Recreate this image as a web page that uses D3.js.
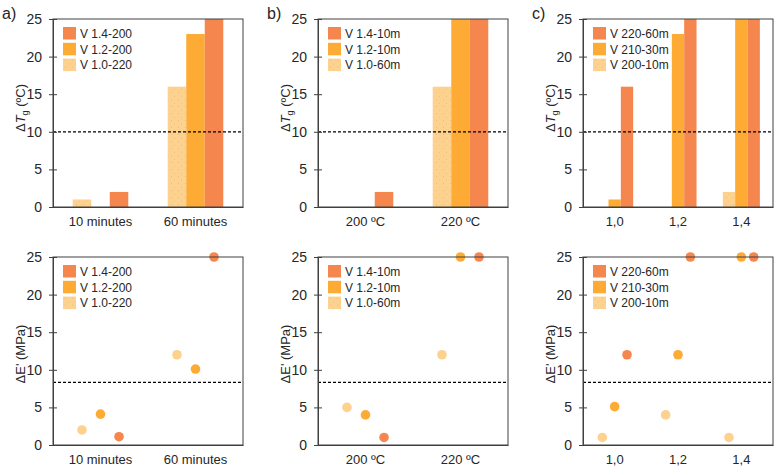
<!DOCTYPE html>
<html>
<head>
<meta charset="utf-8">
<script src="https://cdn.jsdelivr.net/npm/d3@7"></script>
<style>
  body { margin: 0; background: #fff; }
  text { font-family: "Liberation Sans", Arial, sans-serif; }
</style>
</head>
<body>
<svg id="fig" width="777" height="470"></svg>
<script>
// categories
var catsA = ["10 minutes", "60 minutes"];
var catsB = ["200 ºC", "220 ºC"];
var catsC = ["1,0", "1,2", "1,4"];

// series (light, mid, dark)
var seriesA = ["V 1.0-220", "V 1.2-200", "V 1.4-200"];
var seriesB = ["V 1.0-60m", "V 1.2-10m", "V 1.4-10m"];
var seriesC = ["V 200-10m", "V 210-30m", "V 220-60m"];

// delta Tg (ºC), one row per category
var tgA = [[1, 0, 2], [16, 23, 25]];
var tgB = [[0, 0, 2], [16, 25, 25]];
var tgC = [[0, 1, 16], [0, 23, 25], [2, 25, 25]];

// delta E' (MPa), one row per category
var eA = [[2, 4.1, 1.1], [12, 10.1, 25]];
var eB = [[5, 4, 1], [12, 25, 25]];
var eC = [[1, 5.1, 12], [4, 12, 25], [1, 25, 25]];

var yTicks = [0, 5, 10, 15, 20, 25];
var tgLimit = 10, eLimit = 8.33;
var letters = ["a)", "b)", "c)"];

var svg = d3.select("#fig");
var plotW = 190, groupFrac = 0.585;
var axisColor = "#404040", textColor = "#262626";
var barFills = ["url(#speckle)", "#FDAB35", "#F5864E"];
var dotFills = ["#FDD28E", "#FDAB35", "#F5864E"];

// light bars have a speckled texture
var pat = svg.append("defs").append("pattern")
  .attr("id", "speckle").attr("width", 7).attr("height", 7)
  .attr("patternUnits", "userSpaceOnUse");
pat.append("rect").attr("width", 7).attr("height", 7).attr("fill", "#FDD28E");
pat.append("rect").attr("x", 2).attr("y", 1).attr("width", 1).attr("height", 1).attr("fill", "#E9BC80");
pat.append("rect").attr("x", 5).attr("y", 5).attr("width", 1).attr("height", 1).attr("fill", "#EFC286");

function drawPanel(p) {
  var g = svg.append("g");
  var x0 = d3.scaleBand().domain(p.cats).range([p.left, p.left + plotW]);
  var bw = x0.bandwidth();
  var x1 = d3.scaleBand().domain(d3.range(p.series.length))
    .range([bw * (1 - groupFrac) / 2, bw * (1 + groupFrac) / 2]);
  var y = d3.scaleLinear().domain([0, 25]).range([p.bottom, p.top]);

  var grp = g.selectAll(".grp").data(p.values).enter().append("g")
    .attr("transform", function(d, i) { return "translate(" + x0(p.cats[i]) + ",0)"; });

  function items(row) {
    return row.map(function(v, k) { return { v: v, k: k }; });
  }

  if (p.kind == "bar") {
    grp.selectAll("rect")
      .data(function(d) { return items(d).filter(function(o) { return o.v > 0; }); })
      .enter().append("rect")
      .attr("x", function(o) { return x1(o.k); })
      .attr("y", function(o) { return y(o.v); })
      .attr("width", x1.bandwidth())
      .attr("height", function(o) { return y(0) - y(o.v); })
      .attr("fill", function(o) { return barFills[o.k]; });
  }

  // frame
  g.append("rect")
    .attr("x", p.left).attr("y", p.top)
    .attr("width", plotW).attr("height", p.bottom - p.top)
    .attr("fill", "none").attr("stroke", axisColor);

  // threshold
  g.append("line")
    .attr("x1", p.left).attr("x2", p.left + plotW)
    .attr("y1", y(p.limit)).attr("y2", y(p.limit))
    .attr("stroke", "#000").attr("stroke-width", 1.2)
    .attr("stroke-dasharray", "3,2");

  if (p.kind == "dot") {
    grp.selectAll("circle")
      .data(items)
      .enter().append("circle")
      .attr("cx", function(o) { return x1(o.k) + x1.bandwidth() / 2; })
      .attr("cy", function(o) { return y(o.v); })
      .attr("r", 4.8)
      .attr("fill", function(o) { return dotFills[o.k]; });
  }

  var ya = g.append("g")
    .attr("transform", "translate(" + p.left + ",0)")
    .call(d3.axisLeft(y).tickValues(yTicks).tickSize(4).tickSizeOuter(0).tickPadding(7));
  ya.selectAll(".tick line").attr("x1", 4).attr("stroke", axisColor);
  ya.select(".domain").attr("stroke", axisColor);
  ya.selectAll("text").attr("font-size", 14).attr("fill", textColor)
    .style("font-family", "'Liberation Sans', Arial, sans-serif");

  var xa = g.append("g")
    .attr("transform", "translate(0," + p.bottom + ")")
    .call(d3.axisBottom(x0).tickSize(0).tickSizeOuter(0).tickPadding(10));
  xa.select(".domain").attr("stroke", axisColor);
  xa.selectAll("text").attr("font-size", 13).attr("fill", textColor)
    .style("font-family", "'Liberation Sans', Arial, sans-serif");

  // legend
  var leg = g.append("g")
    .attr("transform", "translate(" + (p.left + 10) + "," + (p.top + 8) + ")")
    .selectAll("g")
    .data(d3.range(p.series.length).reverse())
    .enter().append("g")
    .attr("transform", function(d, i) { return "translate(0," + i * 15.8 + ")"; });
  leg.append("rect")
    .attr("width", 13).attr("height", 12.5)
    .attr("fill", function(d) { return barFills[d]; });
  leg.append("text")
    .attr("x", 17).attr("y", 6.5).attr("dy", "0.35em")
    .attr("font-size", 12).attr("fill", textColor)
    .text(function(d) { return p.series[d]; });

  // y title
  var yt = g.append("text")
    .attr("transform", "translate(" + (p.left - 28) + "," + p.titleY + ") rotate(-90)")
    .attr("text-anchor", "middle")
    .attr("font-size", 13).attr("fill", textColor);
  if (p.kind == "bar") {
    yt.append("tspan").text("Δ");
    yt.append("tspan").attr("font-style", "italic").text("T");
    yt.append("tspan").attr("font-size", 9).attr("dy", 3).text("g");
    yt.append("tspan").attr("dy", -3).text(" (ºC)");
  } else {
    yt.text("ΔE' (MPa)");
  }
}

var lefts = [53, 318, 583];
var cats = [catsA, catsB, catsC];
var series = [seriesA, seriesB, seriesC];
var tgs = [tgA, tgB, tgC];
var es = [eA, eB, eC];

for (var i = 0; i < 3; i++) {
  drawPanel({ left: lefts[i], top: 19, bottom: 207, cats: cats[i], series: series[i],
    values: tgs[i], kind: "bar", limit: tgLimit, titleY: 108 });
  drawPanel({ left: lefts[i], top: 257, bottom: 445, cats: cats[i], series: series[i],
    values: es[i], kind: "dot", limit: eLimit, titleY: 354 });
  svg.append("text")
    .attr("x", lefts[i] - 51).attr("y", 19)
    .attr("font-size", 16).attr("fill", textColor)
    .text(letters[i]);
}
</script>
</body>
</html>
